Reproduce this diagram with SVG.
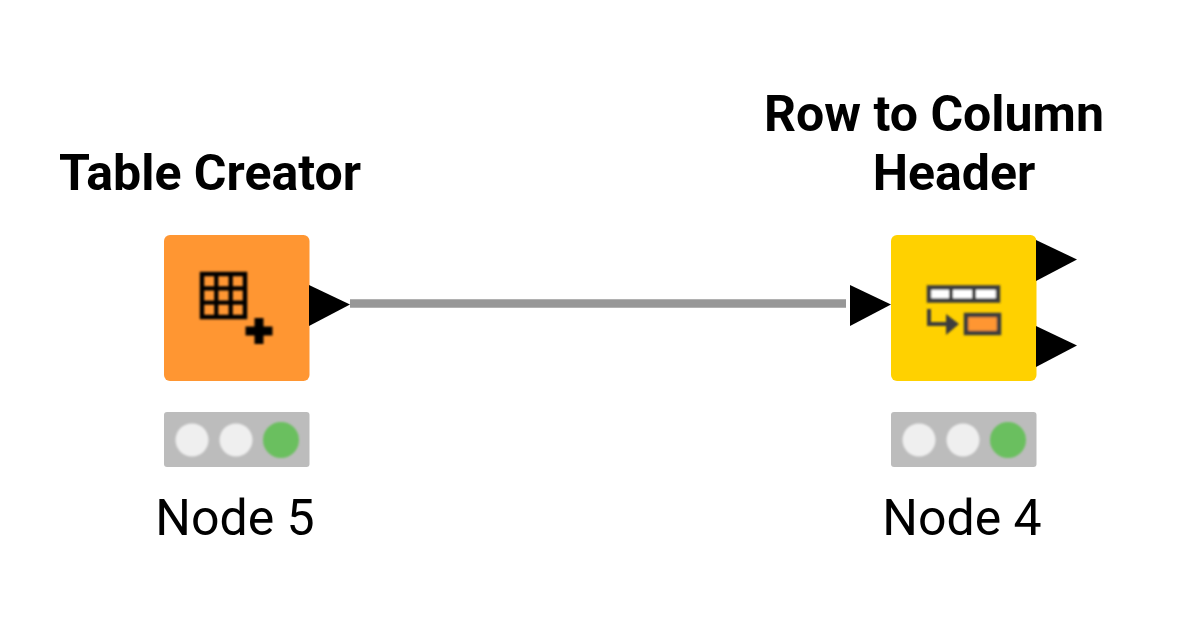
<svg xmlns="http://www.w3.org/2000/svg" width="1200" height="630" viewBox="0 0 1200 630">
<style>
.t{font-family:Roboto,"Liberation Sans",sans-serif;font-size:50px;fill:#000}
.b{font-weight:700;text-anchor:middle}
.n{text-anchor:middle}
.port{fill:#000}
.bar{fill:#bcbcbc}
.off{fill:#efefef}
.on{fill:#6abf5e}
.soft{filter:url(#soft)}
.softer{filter:url(#softer)}
</style>
<defs>
<filter id="soft" x="-10%" y="-10%" width="120%" height="120%"><feGaussianBlur stdDeviation="0.8"/></filter>
<filter id="softer" x="-10%" y="-10%" width="120%" height="120%"><feGaussianBlur stdDeviation="1"/></filter>
</defs>
<rect width="1200" height="630" fill="#fff"/>
<g id="connectors"><line x1="350" y1="303.500" x2="846" y2="303.500" stroke="#979797" stroke-width="8.500"/></g>
<g id="node5">
<text class="t b" x="210" y="190">Table Creator</text>
<rect x="164" y="235" width="145.500" height="146" rx="6" fill="#ff9632"/>
<g class="soft">
<rect x="202" y="274" width="43" height="43" fill="none" stroke="#000" stroke-width="4.500"/>
<path d="M216.300 273V318M230.700 273V318M201 288.300H246M201 302.700H246" fill="none" stroke="#000" stroke-width="4.200"/>
<path d="M245.500 331H272.500M259 318V344" stroke="#000" stroke-width="9" fill="none"/>
</g>
<polygon class="port" points="309,285 350,304.500 309,326"/>
<rect class="bar" x="164" y="412" width="145.500" height="55" rx="3"/>
<g class="softer"><circle class="off" cx="192" cy="440" r="16.500"/><circle class="off" cx="236" cy="440" r="16.500"/><circle class="on" cx="281" cy="440" r="18"/></g>
<text class="t n" x="235" y="534.500">Node 5</text>
</g>
<g id="node4">
<text class="t b" x="934" y="131">Row to Column</text>
<text class="t b" x="954" y="190">Header</text>
<rect x="891" y="235" width="145.500" height="146" rx="6" fill="#ffd100"/>
<g class="soft">
<rect x="929" y="287.500" width="69" height="13" fill="#fff" stroke="#3c3c3c" stroke-width="4.500"/>
<path d="M951 287V301M974 287V301" stroke="#3c3c3c" stroke-width="4"/>
<path d="M929 309V324H952" fill="none" stroke="#3c3c3c" stroke-width="4"/>
<polygon points="946,314 959,324 946,335" fill="#3c3c3c"/>
<rect x="966" y="315" width="33" height="18" fill="#ff9632" stroke="#3c3c3c" stroke-width="4.500"/>
</g>
<polygon class="port" points="850,285 891,304.500 850,326"/>
<polygon class="port" points="1036,240 1077,259.500 1036,281"/>
<polygon class="port" points="1036,326 1077,345.500 1036,367"/>
<rect class="bar" x="891" y="412" width="145.500" height="55" rx="3"/>
<g class="softer"><circle class="off" cx="919" cy="440" r="16.500"/><circle class="off" cx="963" cy="440" r="16.500"/><circle class="on" cx="1008" cy="440" r="18"/></g>
<text class="t n" x="962" y="534.500">Node 4</text>
</g>
</svg>
